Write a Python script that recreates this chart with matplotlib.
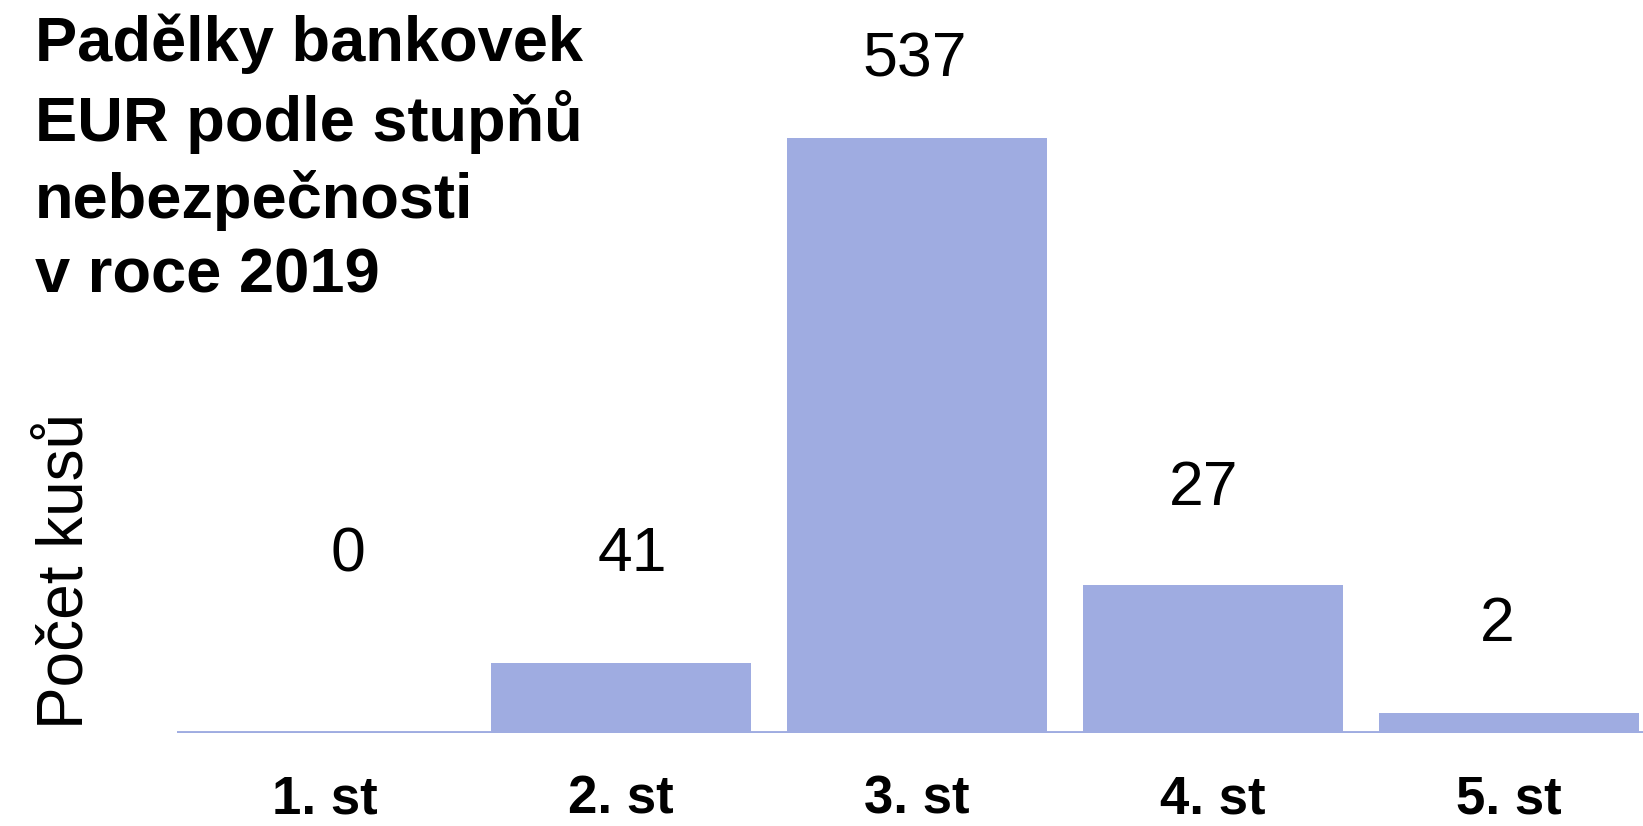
import matplotlib
matplotlib.use('Agg')
import matplotlib.pyplot as plt

plt.rcParams['font.family'] = ['Liberation Sans', 'DejaVu Sans']

# data
categories = ['1. st', '2. st', '3. st', '4. st', '5. st']
counts = [0, 41, 537, 27, 2]            # printed values
bar_heights = [0, 63, 537, 134, 18]     # heights as drawn (bars are not to scale)

title = 'Padělky bankovek\nEUR podle stupňů\nnebezpečnosti\nv roce 2019'
ylabel = 'Počet kusů'
bar_color = '#9FACE1'

W, H = 1643, 826
fig = plt.figure(figsize=(W / 100, H / 100), dpi=100)
fig.patch.set_facecolor('white')

# axes run a bit past the right edge, like the original
ax = fig.add_axes([177 / W, 93 / H, 1480 / W, 733 / H])
x = range(len(categories))
ax.bar(x, bar_heights, width=0.878, color=bar_color, linewidth=0)
ax.axhline(0, color=bar_color, lw=2.8, zorder=3)
ax.set_xlim(-0.5, 4.5)
ax.set_ylim(0, 661.6)

# value labels sit a little off the bar centres in the original
label_dx = [16.5, 8.5, -2, -6.5, -8.5]
label_dy = [128, 78, 56, 69, 64]
for xi, h, c, dx, dy in zip(x, bar_heights, counts, label_dx, label_dy):
    ax.annotate(str(c), (xi, h), xytext=(dx, dy), textcoords='offset points',
                ha='center', va='center', fontsize=45, color='black')

ax.set_xticks(list(x))
ax.set_xticklabels(categories, fontsize=38, fontweight='bold')
ax.tick_params(axis='x', length=0, pad=30)
ax.set_yticks([])
for s in ax.spines.values():
    s.set_visible(False)

fig.text(66 / W, 1 - 571 / H, ylabel, rotation=90, ha='center', va='center',
         fontsize=46)
fig.text(35 / W, 1 - 13 / H, title, ha='left', va='top', fontsize=45.5,
         fontweight='bold', linespacing=1.33)

fig.savefig('out.png', dpi=100)
